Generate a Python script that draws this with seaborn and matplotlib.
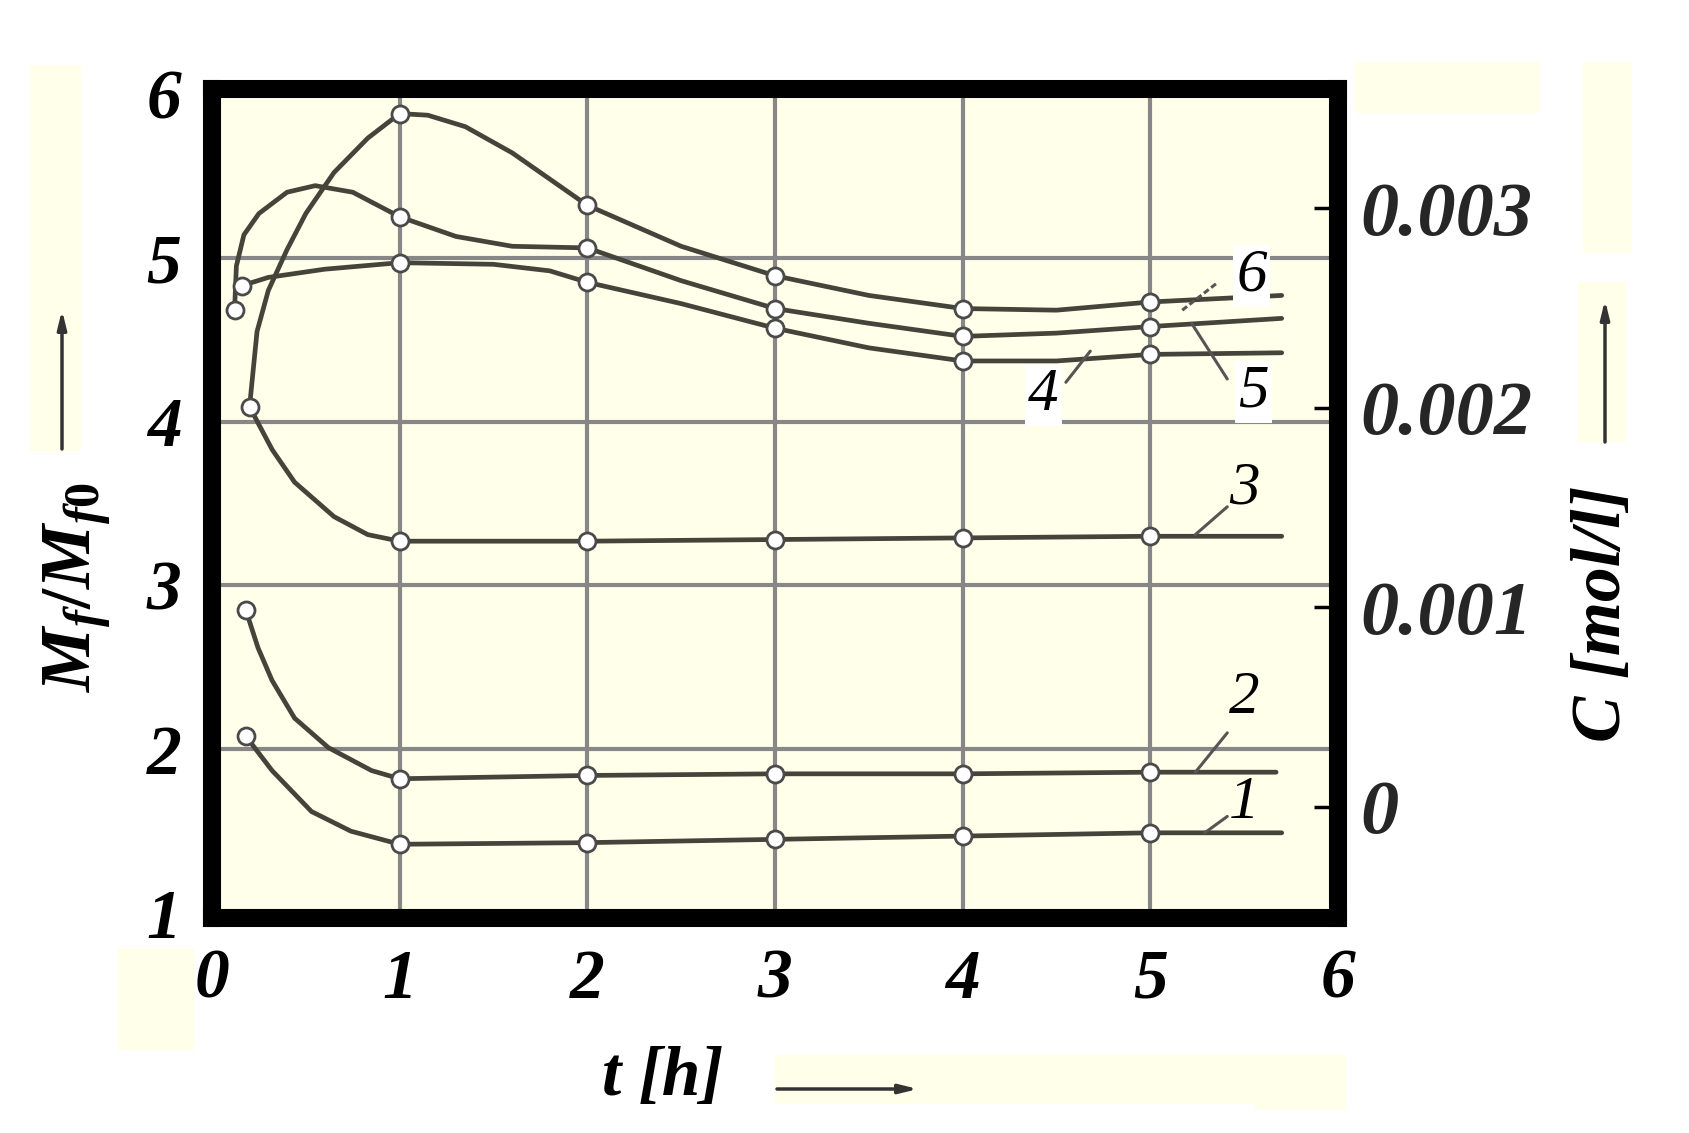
import matplotlib
matplotlib.use('Agg')
import matplotlib.pyplot as plt
from matplotlib.patches import Rectangle
import seaborn as sns

# curve traces (t in h, Mf/Mf0)
c1_t = [0.18, 0.32, 0.53, 0.74, 1.0, 2.0, 3.0, 4.0, 5.0, 5.7]
c1_y = [2.08, 1.87, 1.62, 1.50, 1.42, 1.43, 1.45, 1.47, 1.49, 1.49]
c2_t = [0.18, 0.245, 0.32, 0.44, 0.62, 0.85, 1.0, 2.0, 3.0, 4.0, 5.0, 5.67]
c2_y = [2.85, 2.62, 2.42, 2.19, 2.01, 1.87, 1.82, 1.84, 1.85, 1.85, 1.86, 1.86]
c3_t = [0.20, 0.32, 0.44, 0.65, 0.83, 1.0, 2.0, 3.0, 4.0, 5.0, 5.7]
c3_y = [4.09, 3.83, 3.63, 3.42, 3.31, 3.27, 3.27, 3.28, 3.29, 3.30, 3.30]
c4_t = [0.16, 0.3, 0.6, 1.0, 1.5, 1.8, 2.0, 2.5, 3.0, 3.5, 4.0, 4.5, 5.0, 5.7]
c4_y = [4.83, 4.88, 4.93, 4.97, 4.96, 4.92, 4.85, 4.72, 4.57, 4.45, 4.37, 4.37, 4.41, 4.42]
c5_t = [0.12, 0.13, 0.17, 0.25, 0.40, 0.55, 0.75, 1.0, 1.3, 1.6, 2.0, 2.5, 3.0, 3.5, 4.0, 4.5, 5.0, 5.7]
c5_y = [4.68, 4.95, 5.14, 5.27, 5.40, 5.44, 5.40, 5.25, 5.13, 5.07, 5.06, 4.86, 4.69, 4.60, 4.52, 4.54, 4.58, 4.63]
c6_t = [0.20, 0.24, 0.30, 0.40, 0.50, 0.65, 0.83, 1.0, 1.15, 1.35, 1.6, 2.0, 2.5, 3.0, 3.5, 4.0, 4.5, 5.0, 5.7]
c6_y = [4.09, 4.55, 4.80, 5.05, 5.27, 5.52, 5.73, 5.88, 5.87, 5.80, 5.64, 5.32, 5.07, 4.89, 4.77, 4.69, 4.68, 4.73, 4.77]

# measured points (open circles)
m1_t = [0.18, 1, 2, 3, 4, 5]
m1_y = [2.08, 1.42, 1.43, 1.45, 1.47, 1.49]
m2_t = [0.18, 1, 2, 3, 4, 5]
m2_y = [2.85, 1.82, 1.84, 1.85, 1.85, 1.86]
m3_t = [0.20, 1, 2, 3, 4, 5]
m3_y = [4.09, 3.27, 3.27, 3.28, 3.29, 3.30]
m4_t = [0.16, 1, 2, 3, 4, 5]
m4_y = [4.83, 4.97, 4.85, 4.57, 4.37, 4.41]
m5_t = [0.12, 1, 2, 3, 4, 5]
m5_y = [4.68, 5.25, 5.06, 4.69, 4.52, 4.58]
m6_t = [1, 2, 3, 4, 5]
m6_y = [5.88, 5.32, 4.89, 4.69, 4.73]

# curve number labels and their leader lines
label_text = ['1', '2', '3', '4', '5', '6']
label_t = [5.50, 5.50, 5.50, 4.43, 5.55, 5.54]
label_y = [1.67, 2.31, 3.59, 4.16, 4.18, 4.89]
leader_t0 = [5.29, 5.24, 5.24, 4.68, 5.22, 5.17]
leader_y0 = [1.49, 1.86, 3.31, 4.43, 4.60, 4.68]
leader_t1 = [5.41, 5.41, 5.41, 4.55, 5.41, 5.36]
leader_y1 = [1.59, 2.10, 3.48, 4.24, 4.26, 4.85]

x_ticks = [0, 1, 2, 3, 4, 5, 6]
y_ticks = [1, 2, 3, 4, 5, 6]
c_ticks = [0, 0.001, 0.002, 0.003]
c_tick_labels = ['0', '0.001', '0.002', '0.003']

W, H = 1689, 1133
cream = '#FFFFEA'
ink = '#44443a'
font = ['Liberation Serif', 'DejaVu Serif']


def px_box(x, y, w, h):
    # top-left pixel box -> figure fraction rect
    return (x / W, 1 - (y + h) / H, w / W, h / H)


def main():
    sns.set_theme(style='white')
    plt.rcParams['font.family'] = font
    plt.rcParams['mathtext.fontset'] = 'custom'
    plt.rcParams['mathtext.it'] = 'Liberation Serif:italic:bold'
    plt.rcParams['mathtext.rm'] = 'Liberation Serif:bold'

    fig = plt.figure(figsize=(W / 100, H / 100), dpi=100)
    fig.patch.set_facecolor('white')

    # faint cream scan patches around the plot
    for box in [(30, 65, 51, 387), (1355, 62, 185, 51), (1583, 62, 49, 191),
                (1578, 282, 48, 160), (118, 948, 76, 102), (775, 1055, 480, 49),
                (1255, 1055, 91, 55)]:
        r = px_box(*box)
        fig.add_artist(Rectangle(r[:2], r[2], r[3], transform=fig.transFigure,
                                 color=cream, lw=0, zorder=0))

    ax = fig.add_axes(px_box(212, 89, 1126, 829))
    ax.set_facecolor(cream)

    curves = [(c1_t, c1_y), (c2_t, c2_y), (c3_t, c3_y),
              (c4_t, c4_y), (c5_t, c5_y), (c6_t, c6_y)]
    marks = [(m1_t, m1_y), (m2_t, m2_y), (m3_t, m3_y),
             (m4_t, m4_y), (m5_t, m5_y), (m6_t, m6_y)]
    for t, y in curves:
        sns.lineplot(x=t, y=y, ax=ax, color=ink, linewidth=3.4,
                     estimator=None, sort=False, zorder=3)
    for t, y in marks:
        sns.scatterplot(x=t, y=y, ax=ax, s=150, color='white',
                        edgecolor='#4a4a4a', linewidth=2.0, zorder=4)

    for i, txt in enumerate(label_text):
        ls = (0, (2, 1)) if txt == '6' else '-'
        ax.plot([leader_t0[i], leader_t1[i]], [leader_y0[i], leader_y1[i]],
                color='#555555', lw=2.2, ls=ls, zorder=5)
        bbox = dict(facecolor='white', edgecolor='none', pad=2) if txt in '456' else None
        ax.text(label_t[i], label_y[i], txt, fontsize=44, style='italic',
                ha='center', va='center', color='black', bbox=bbox, zorder=6)

    ax.set_xlim(0, 6)
    ax.set_ylim(0.97, 6.03)
    ax.set_xticks(x_ticks)
    ax.set_yticks(y_ticks)
    ax.set_xticklabels([str(v) for v in x_ticks])
    ax.set_yticklabels([str(v) for v in y_ticks])
    ax.grid(True, color='#878787', lw=3.0, zorder=1)
    ax.set_axisbelow(True)
    ax.tick_params(axis='x', length=0, pad=22)
    ax.tick_params(axis='y', length=0, pad=22)
    for lab in ax.get_xticklabels() + ax.get_yticklabels():
        lab.set_fontsize(50)
        lab.set_style('italic')
        lab.set_weight('bold')
        lab.set_color('black')
    for sp in ax.spines.values():
        sp.set_visible(True)
        sp.set_color('black')
        sp.set_linewidth(13)
    ax.set_xlabel('')
    ax.set_ylabel('')

    ax2 = ax.twinx()
    ax2.set_ylim(-0.000559, 0.003598)
    ax2.set_yticks(c_ticks)
    ax2.set_yticklabels(c_tick_labels)
    ax2.tick_params(axis='y', direction='in', length=17, width=2.5,
                    color='black', pad=16, right=True)
    for lab in ax2.get_yticklabels():
        lab.set_fontsize(55)
        lab.set_style('italic')
        lab.set_weight('bold')
    for sp in ax2.spines.values():
        sp.set_visible(False)
    ax2.grid(False)

    # axis titles and arrows
    fig.text(78 / W, 1 - 587 / H, r'$M_f/M_{f0}$', rotation=90, fontsize=52,
             ha='center', va='center', color='black')
    fig.text(1603 / W, 1 - 614 / H, 'C [mol/l]', rotation=90, fontsize=50,
             style='italic', weight='bold', ha='center', va='center', color='black')
    fig.text(663 / W, 1 - 1078 / H, 't [h]', fontsize=50,
             style='italic', weight='bold', ha='center', va='center', color='black')
    arrow = dict(arrowstyle='-|>,head_width=0.22,head_length=0.9', lw=2.5,
                 color='#333333', shrinkA=0, shrinkB=0)
    fig.add_artist(plt.Annotation('', xy=(62, H - 310), xytext=(62, H - 449),
                                  xycoords='figure pixels', arrowprops=arrow))
    fig.add_artist(plt.Annotation('', xy=(1605, H - 300), xytext=(1605, H - 442),
                                  xycoords='figure pixels', arrowprops=arrow))
    fig.add_artist(plt.Annotation('', xy=(918, H - 1089), xytext=(777, H - 1089),
                                  xycoords='figure pixels', arrowprops=arrow))

    fig.savefig('out.png', dpi=100, facecolor='white')
    plt.close(fig)


if __name__ == '__main__':
    main()
